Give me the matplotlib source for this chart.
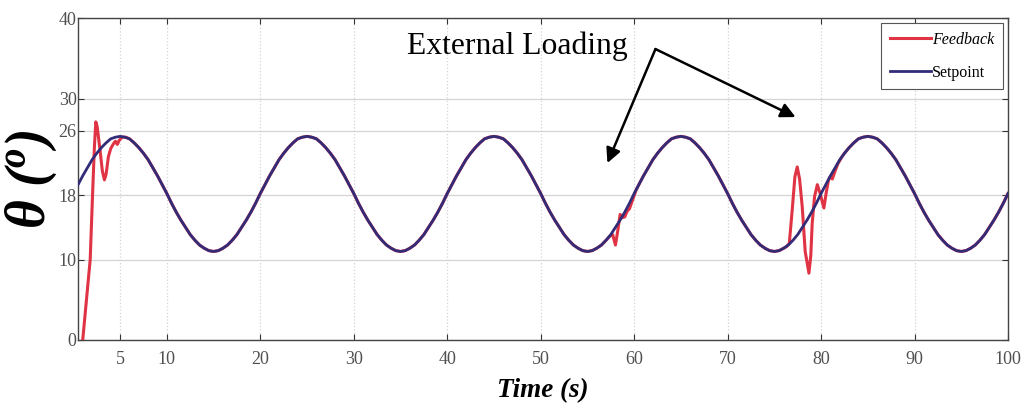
import matplotlib
matplotlib.use("Agg")
import matplotlib.pyplot as plt

plt.rcParams['font.family'] = ['Liberation Serif', 'DejaVu Serif']
plt.rcParams['mathtext.fontset'] = 'custom'
plt.rcParams['mathtext.it'] = 'Liberation Serif:bold:italic'
plt.rcParams['mathtext.rm'] = 'Liberation Serif:bold'

# setpoint read every half second, t = 0..100
setpoint_t = [i * 0.5 for i in range(201)]
setpoint_y = [
    18.2, 19.3, 20.4, 21.4, 22.4, 23.2, 23.9, 24.5, 25.0, 25.2, 25.3, 25.2, 25.0, 24.5, 23.9, 23.2, 22.4, 21.4, 20.4, 19.3,
    18.2, 17.0, 15.9, 14.9, 14.0, 13.1, 12.4, 11.8, 11.4, 11.1, 11.0, 11.1, 11.4, 11.8, 12.4, 13.1, 14.0, 14.9, 15.9, 17.0,
    18.2, 19.3, 20.4, 21.4, 22.4, 23.2, 23.9, 24.5, 25.0, 25.2, 25.3, 25.2, 25.0, 24.5, 23.9, 23.2, 22.4, 21.4, 20.4, 19.3,
    18.2, 17.0, 15.9, 14.9, 14.0, 13.1, 12.4, 11.8, 11.4, 11.1, 11.0, 11.1, 11.4, 11.8, 12.4, 13.1, 14.0, 14.9, 15.9, 17.0,
    18.2, 19.3, 20.4, 21.4, 22.4, 23.2, 23.9, 24.5, 25.0, 25.2, 25.3, 25.2, 25.0, 24.5, 23.9, 23.2, 22.4, 21.4, 20.4, 19.3,
    18.2, 17.0, 15.9, 14.9, 14.0, 13.1, 12.4, 11.8, 11.4, 11.1, 11.0, 11.1, 11.4, 11.8, 12.4, 13.1, 14.0, 14.9, 15.9, 17.0,
    18.2, 19.3, 20.4, 21.4, 22.4, 23.2, 23.9, 24.5, 25.0, 25.2, 25.3, 25.2, 25.0, 24.5, 23.9, 23.2, 22.4, 21.4, 20.4, 19.3,
    18.2, 17.0, 15.9, 14.9, 14.0, 13.1, 12.4, 11.8, 11.4, 11.1, 11.0, 11.1, 11.4, 11.8, 12.4, 13.1, 14.0, 14.9, 15.9, 17.0,
    18.2, 19.3, 20.4, 21.4, 22.4, 23.2, 23.9, 24.5, 25.0, 25.2, 25.3, 25.2, 25.0, 24.5, 23.9, 23.2, 22.4, 21.4, 20.4, 19.3,
    18.2, 17.0, 15.9, 14.9, 14.0, 13.1, 12.4, 11.8, 11.4, 11.1, 11.0, 11.1, 11.4, 11.8, 12.4, 13.1, 14.0, 14.9, 15.9, 17.0,
    18.2,
]

# feedback where it leaves the setpoint (start-up and the two loadings)
startup_t = [1.0, 1.4, 1.8, 2.05, 2.25, 2.4, 2.55, 2.85, 3.1, 3.32, 3.5, 3.75,
             4.0, 4.3, 4.5, 4.7, 4.9, 5.2, 5.6]
startup_y = [0.0, 5.0, 10.0, 18.0, 24.0, 27.1, 26.5, 23.6, 21.0, 19.9, 20.6, 22.8,
             23.8, 24.4, 24.7, 24.3, 24.8, 25.2, 25.2]
load1_t = [57.4, 57.7, 58.0, 58.25, 58.5, 58.75, 59.0, 59.25, 59.5, 59.8, 60.2]
load1_y = [12.9, 13.1, 11.8, 13.6, 15.6, 15.2, 15.3, 16.0, 16.3, 17.3, 18.6]
load2_t = [76.3, 76.6, 76.9, 77.2, 77.45, 77.7, 77.98, 78.3, 78.7, 78.9, 79.05,
           79.3, 79.6, 79.9, 80.3, 80.55, 80.8, 81.0, 81.2, 81.5, 81.8, 82.2]
load2_y = [11.6, 12.0, 16.0, 20.3, 21.5, 20.0, 16.6, 11.0, 8.3, 10.5, 14.5,
           17.8, 19.3, 18.2, 16.4, 18.3, 19.9, 20.3, 20.0, 21.0, 21.9, 22.7]

x_ticks = [5, 10, 20, 30, 40, 50, 60, 70, 80, 90, 100]
y_ticks = [0, 10, 18, 26, 30, 40]

# outside the disturbed windows the feedback lies on the setpoint
windows = [(startup_t, startup_y), (load1_t, load1_y), (load2_t, load2_y)]
feedback_t, feedback_y = [], []
for t, y in zip(setpoint_t, setpoint_y):
    if any(w_t[0] <= t <= w_t[-1] for w_t, _ in windows) or t < startup_t[0]:
        continue
    feedback_t.append(t)
    feedback_y.append(y)
for w_t, w_y in windows:
    feedback_t += w_t
    feedback_y += w_y
order = sorted(range(len(feedback_t)), key=lambda i: feedback_t[i])
feedback_t = [feedback_t[i] for i in order]
feedback_y = [feedback_y[i] for i in order]

fig = plt.figure(figsize=(10.27, 4.08), dpi=100)
ax = fig.add_axes([0.076, 0.1667, 0.9055, 0.789])

ax.plot(feedback_t, feedback_y, color='#e03344', linewidth=2.2, label='Feedback', zorder=3)
ax.plot(setpoint_t, setpoint_y, color='#322c78', linewidth=2.0, label='Setpoint', zorder=4)

ax.set_xlim(0.5, 100)
ax.set_ylim(0, 40)
ax.set_xticks(x_ticks)
ax.set_yticks(y_ticks)

ax.grid(axis='y', color='#d4d4d4', linestyle='-', linewidth=0.9)
ax.grid(axis='x', color='#d4d4d4', linestyle=':', linewidth=0.9)
ax.set_axisbelow(True)

ax.tick_params(axis='both', direction='in', top=True, right=True, length=4,
               width=0.8, colors='#333333', labelcolor='#505050', labelsize=13)
ax.tick_params(axis='x', pad=8)
ax.tick_params(axis='y', pad=1)
for s in ax.spines.values():
    s.set_color('#444444')
    s.set_linewidth(1.0)

ax.set_xlabel('Time (s)', fontsize=19.5, fontweight='bold', fontstyle='italic', labelpad=7)
ax.set_ylabel(r'θ ($\mathit{^{o}}$)', fontsize=40, fontweight='bold', fontstyle='italic', labelpad=0)

# annotation
ax.text(35.7, 36.5, 'External Loading', fontsize=22.8, ha='left', va='center')
arrow = dict(arrowstyle='-|>', color='black', lw=1.8, mutation_scale=22, shrinkA=0, shrinkB=0)
ax.annotate('', xy=(57.14, 21.99), xytext=(62.28, 36.15), arrowprops=arrow, zorder=6)
ax.annotate('', xy=(77.27, 27.70), xytext=(62.28, 36.15), arrowprops=arrow, zorder=6)

leg = ax.legend(loc='upper right', bbox_to_anchor=(0.9946, 0.9845), borderaxespad=0,
                fontsize=11.5, fancybox=False, edgecolor='#555555', framealpha=1,
                handlelength=2.6, handletextpad=0.05, labelspacing=1.05, borderpad=0.55)
leg.get_frame().set_linewidth(0.8)
leg.get_texts()[0].set_fontstyle('italic')

fig.savefig('out.png', dpi=100)
